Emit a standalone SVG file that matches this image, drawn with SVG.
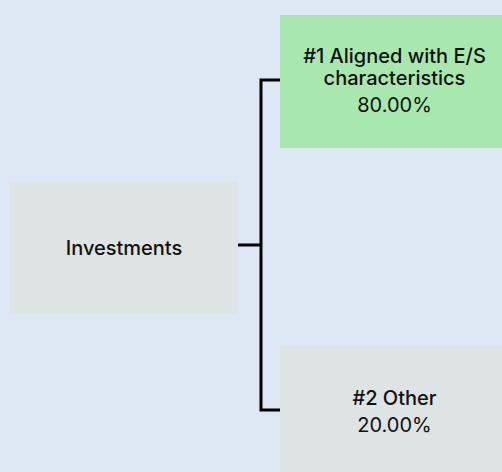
<svg xmlns="http://www.w3.org/2000/svg" width="502" height="472" viewBox="0 0 502 472">
<style>
.t{font-family:Inter,"Liberation Sans",sans-serif;font-size:20px;fill:#111;text-anchor:middle}
.b{font-weight:500}
.c{fill:none;stroke:#000;stroke-width:3}
</style>
<rect width="502" height="472" fill="#dde8f4"/>
<g id="connectors">
<path class="c" d="M238 245H261"/>
<path class="c" d="M280 80H261V410H280"/>
</g>
<g id="investments">
<rect x="9" y="181" width="229" height="133" fill="#dee3e3"/>
<text class="t b" x="124" y="255">Investments</text>
</g>
<g id="aligned">
<rect x="280" y="15" width="230" height="133" fill="#a8e8ae"/>
<text class="t b" x="394.5" y="63">#1 Aligned with E/S</text>
<text class="t b" x="394.5" y="85">characteristics</text>
<text class="t" x="394.5" y="112">80.00%</text>
</g>
<g id="other">
<rect x="280" y="346" width="230" height="133" fill="#dee3e3"/>
<text class="t b" x="394.5" y="405">#2 Other</text>
<text class="t" x="394.5" y="432">20.00%</text>
</g>
</svg>
